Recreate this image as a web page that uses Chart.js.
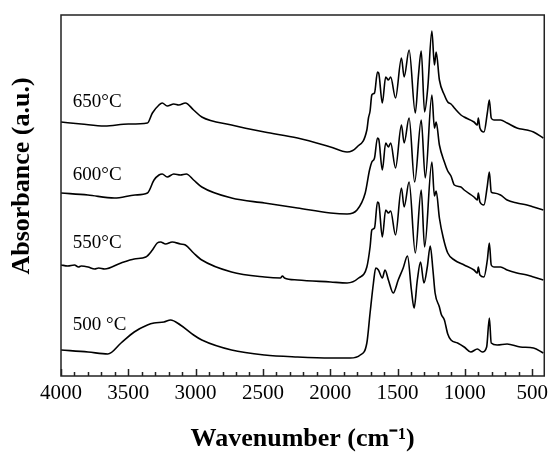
<!DOCTYPE html>
<html><head><meta charset="utf-8">
<script src="https://cdn.jsdelivr.net/npm/chart.js@4.4.1/dist/chart.umd.min.js"></script>
<style>html,body{margin:0;padding:0;background:#fff}canvas{display:block}</style>
</head><body>
<canvas id="c" width="553" height="455"></canvas>
<script>
// ---- data (wavenumber, absorbance in arbitrary units) ----
const wn650 = [4000,3850,3676,3500,3358,3321,3272,3248,3211,3162,3125,3076,3015,2954,2733,2488,2243,1998,1875,1801,1728,1716,1704,1691,1671,1649,1640,1613,1588,1568,1551,1515,1471,1451,1414,1368,1345,1324,1299,1275,1245,1226,1213,1189,1152,1127,1103,1078,1029,1005,932,907,900,888,858,833,818,804,784,735,686,613,539,490,417];
const ab650 = [254,252,250,252,253,263,271,273,270,272,271,273,266,259,251,244,238,229,224,229,246,258,265,281,283,304,303,273,299,296,299,278,318,299,326,263,300,325,264,289,345,311,324,296,281,274,272,268,261,259,254,251,258,248,244,263,276,258,256,256,253,248,246,244,238];

const wn600 = [4000,3800,3603,3450,3358,3309,3272,3248,3211,3162,3113,3069,3015,2954,2733,2488,2243,1998,1875,1801,1740,1708,1691,1671,1649,1640,1613,1588,1568,1551,1515,1471,1451,1414,1373,1324,1294,1245,1226,1213,1189,1152,1127,1103,1078,1029,1005,932,907,900,888,858,833,818,804,784,735,686,613,539,490,417];
const ab600 = [183,181,178,181,183,196,201,202,199,202,201,202,196,189,178,173,168,163,162,166,183,206,214,218,238,237,206,233,229,233,208,251,233,258,194,256,198,281,248,254,231,214,205,200,191,189,186,179,176,183,174,171,190,204,184,183,181,176,173,171,169,166];

const wn550 = [4000,3950,3900,3870,3850,3799,3750,3720,3676,3554,3456,3370,3321,3285,3260,3223,3174,3113,3076,3015,2954,2733,2488,2370,2355,2340,2243,1998,1875,1789,1728,1704,1691,1671,1649,1640,1613,1588,1568,1551,1515,1471,1451,1414,1368,1324,1299,1245,1226,1213,1189,1160,1127,1078,1005,932,907,900,888,858,833,818,804,784,735,686,613,539,490,417];
const ab550 = [111,110,111,109,110,109,107,108,107,113,117,119,126,133,134,132,134,132,131,123,116,104,99,98,100,98,96,94,93,98,109,129,146,148,174,173,139,166,163,165,141,188,169,194,123,186,129,214,180,185,158,138,123,116,111,106,103,109,101,99,116,133,111,109,109,106,103,101,99,96];

const wn500 = [4000,3799,3652,3554,3456,3358,3309,3235,3186,3113,3015,2954,2733,2488,2243,1998,1851,1777,1728,1704,1679,1662,1642,1613,1593,1568,1532,1495,1458,1426,1397,1377,1353,1329,1304,1279,1257,1237,1221,1189,1176,1152,1127,1103,1054,1005,956,907,870,838,818,804,760,686,588,490,417];
const ab500 = [26,24,22,33,44,51,53,54,56,51,41,36,26,21,19,18,18,21,33,63,93,108,106,98,106,96,83,96,108,120,86,68,96,114,93,109,130,106,83,69,62,56,42,36,33,29,24,27,24,29,58,33,31,32,29,28,23];

const seriesNames = ['650°C', '600°C', '550°C', '500 °C'];
const xTickValues = [4000, 3500, 3000, 2500, 2000, 1500, 1000, 500];

// ---- chart ----
const SERIF = "'Liberation Serif', 'Times New Roman', serif";
const pairs = (xs, ys) => xs.map((x, i) => ({x: x, y: ys[i]}));
const datasets = [[wn650, ab650], [wn600, ab600], [wn550, ab550], [wn500, ab500]].map((d, i) => ({
  label: seriesNames[i],
  data: pairs(d[0], d[1]),
  borderColor: '#000',
  borderWidth: 1.6,
  pointRadius: 0,
  fill: false,
  cubicInterpolationMode: 'monotone'
}));

const framePlugin = {
  id: 'frame',
  afterDatasetsDraw(chart) {
    const {ctx, chartArea: a, scales: {x}} = chart;
    ctx.save();
    ctx.strokeStyle = '#222';
    ctx.lineWidth = 1.5;
    ctx.beginPath();
    x.ticks.forEach(t => {
      const px = Math.round(x.getPixelForValue(t.value)) + 0.5;
      const len = xTickValues.includes(t.value) ? 7 : 4;
      ctx.moveTo(px, a.bottom);
      ctx.lineTo(px, a.bottom - len);
    });
    ctx.stroke();
    ctx.strokeRect(a.left, a.top, a.right - a.left, a.bottom - a.top);
    ctx.restore();
  }
};

const seriesLabelPlugin = {
  id: 'seriesLabels',
  afterDatasetsDraw(chart, args, opts) {
    const {ctx, scales: {x, y}} = chart;
    ctx.save();
    ctx.fillStyle = '#000';
    ctx.font = opts.font;
    ctx.textAlign = 'left';
    ctx.textBaseline = 'middle';
    opts.items.forEach((it, i) => {
      ctx.fillText(seriesNames[i], x.getPixelForValue(it[0]), y.getPixelForValue(it[1]));
    });
    ctx.restore();
  }
};

new Chart(document.getElementById('c'), {
  type: 'line',
  data: {datasets},
  plugins: [framePlugin, seriesLabelPlugin],
  options: {
    responsive: false,
    animation: false,
    layout: {padding: {top: 15, right: 4, left: 0, bottom: 0}},
    plugins: {
      legend: {display: false},
      tooltip: {enabled: false},
      seriesLabels: {
        font: "19px " + SERIF,
        items: [[3912, 274], [3912, 201], [3912, 133], [3912, 51]]
      }
    },
    scales: {
      x: {
        type: 'linear',
        reverse: true,
        min: 410,
        max: 4000,
        grid: {display: false, drawTicks: false},
        border: {display: false},
        afterBuildTicks: s => {
          const t = [];
          for (let v = 4000; v >= 500; v -= 100) t.push({value: v});
          s.ticks = t;
        },
        ticks: {
          autoSkip: false,
          maxRotation: 0,
          padding: 5,
          color: '#000',
          font: {family: SERIF, size: 21},
          callback: v => xTickValues.includes(v) ? String(v) : ''
        },
        title: {
          display: true,
          text: 'Wavenumber (cm⁻¹)',
          color: '#000',
          font: {family: SERIF, size: 26, weight: 'bold', lineHeight: 1.2},
          padding: {top: 0, bottom: 0}
        },
        afterFit: s => { s.height = 79; }
      },
      y: {
        min: 0,
        max: 361,
        grid: {display: false, drawTicks: false},
        border: {display: false},
        ticks: {display: false},
        title: {
          display: true,
          text: '      Absorbance (a.u.)',
          color: '#000',
          font: {family: SERIF, size: 26, weight: 'bold', lineHeight: 1.2},
          padding: {top: 7, bottom: 0}
        },
        afterFit: s => { s.width = 61; }
      }
    }
  }
});
</script>
</body></html>
